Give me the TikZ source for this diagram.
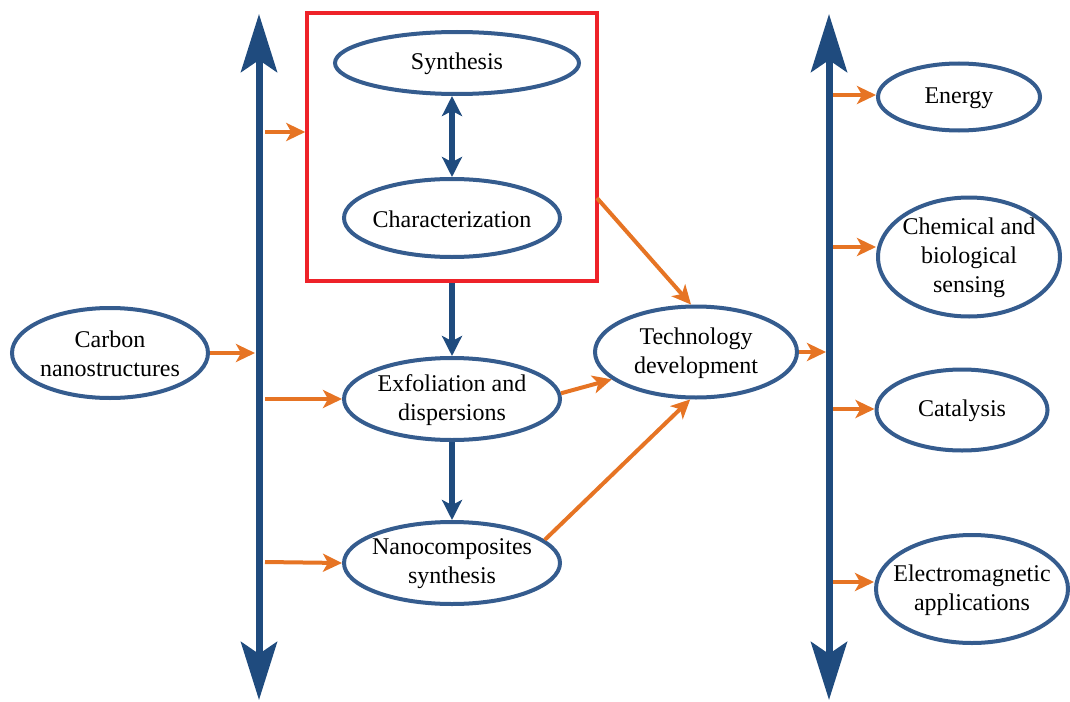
\documentclass[tikz,border=0pt]{standalone}
\usepackage{fontspec}
\setmainfont{Liberation Serif}
\usetikzlibrary{shapes.geometric,arrows.meta}
\definecolor{navy}{HTML}{1F4B7E}
\definecolor{ellblue}{HTML}{355C8E}
\definecolor{orng}{HTML}{E67424}
\definecolor{boxred}{HTML}{EE2229}
\begin{document}
\begin{tikzpicture}[x=1pt,y=-1pt,
  ell/.style={draw=ellblue,line width=4pt,ellipse,inner sep=0pt,fill=white},
  lbl/.style={align=center,font=\fontsize{24}{29}\selectfont,inner sep=0pt,yshift=-1pt},
  bigarrow/.style={draw=navy,line width=7pt,
    {Stealth[length=58pt,width=36pt,inset=12pt]}-{Stealth[length=58pt,width=36pt,inset=12pt]}},
  midarrow/.style={draw=navy,line width=6pt,-{Stealth[length=20pt,width=20pt,inset=5pt]}},
  dblarrow/.style={draw=navy,line width=6pt,{Stealth[length=20pt,width=20pt,inset=5pt]}-{Stealth[length=20pt,width=20pt,inset=5pt]}},
  oarrow/.style={draw=orng,line width=4pt,-{Stealth[length=19pt,width=18pt,inset=5pt]}}]
\useasboundingbox (0,0) rectangle (1070,701);

% vertical lines
\coordinate (LT) at (259,14);
\coordinate (LB) at (259,700);
\coordinate (RT) at (829,14);
\coordinate (RB) at (829,700);
\draw[bigarrow] (LB) -- (LT);
\draw[bigarrow] (RB) -- (RT);

% red box
\node[draw=boxred,line width=3.5pt,minimum width=290pt,minimum height=268pt,inner sep=0pt] (box) at (452,147) {};

% ellipses
\node[ell,minimum width=244pt,minimum height=62pt,label={[lbl]center:Synthesis}] (syn) at (457,63) {};
\node[ell,minimum width=216pt,minimum height=78pt,label={[lbl]center:Characterization}] (char) at (452,218) {};
\node[ell,minimum width=196pt,minimum height=90pt,label={[lbl]center:Carbon\\nanostructures}] (carbon) at (110,353) {};
\node[ell,minimum width=216pt,minimum height=82pt,label={[lbl]center:Exfoliation and\\dispersions}] (exf) at (452,399) {};
\node[ell,minimum width=216pt,minimum height=82pt,label={[lbl]center:Nanocomposites\\synthesis}] (nano) at (452,563) {};
\node[ell,minimum width=202pt,minimum height=91pt,label={[lbl]center:Technology\\development}] (tech) at (696,352) {};
\node[ell,minimum width=162pt,minimum height=67pt,label={[lbl]center:Energy}] (energy) at (959,97) {};
\node[ell,minimum width=182pt,minimum height=119pt,label={[lbl]center:Chemical and\\biological\\sensing}] (chem) at (969,257) {};
\node[ell,minimum width=171pt,minimum height=81pt,label={[lbl]center:Catalysis}] (cat) at (962,410) {};
\node[ell,minimum width=192pt,minimum height=108pt,label={[lbl]center:Electromagnetic\\applications}] (em) at (972,589) {};

% blue arrows
\draw[dblarrow] (452,96) coordinate (s1) -- (s1 |- char.north);
\draw[midarrow] (box.south -| exf.north) -- (exf.north);
\draw[midarrow] (exf.south) -- (nano.north);

% orange arrows
\coordinate (o1) at (265,132);
\draw[oarrow] (o1) -- (o1 -| box.west);
\coordinate (o2) at (255,353);
\draw[oarrow] (carbon.east) -- (o2);
\coordinate (o3) at (265,399);
\draw[oarrow] (o3) -- (exf.west);
\coordinate (o4) at (265,562);
\draw[oarrow] (o4) -- (nano.west);
\draw[oarrow] (exf.3) -- (tech.198);
\draw[oarrow] (nano.14) -- (tech.263);
\draw[oarrow] (597,198) coordinate (b1) -- (tech.96);
\coordinate (o5) at (826,352);
\draw[oarrow] (tech.east) -- (o5);
\coordinate (r1) at (833,95);
\draw[oarrow] (r1) -- (r1 -| energy.west);
\coordinate (r2) at (833,247);
\draw[oarrow] (r2) -- (r2 -| chem.west);
\coordinate (r3) at (833,409);
\draw[oarrow] (r3) -- (r3 -| cat.west);
\coordinate (r4) at (833,582);
\draw[oarrow] (r4) -- (r4 -| em.west);
\end{tikzpicture}
\end{document}
